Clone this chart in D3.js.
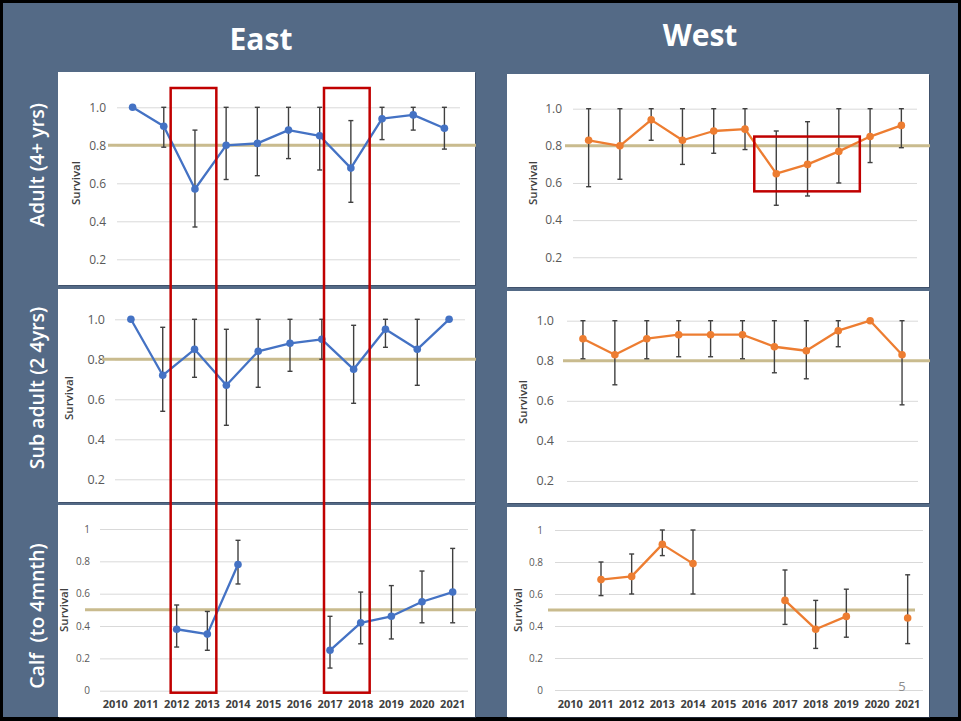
<!DOCTYPE html>
<html>
<head>
<meta charset="utf-8">
<script src="https://cdn.jsdelivr.net/npm/d3@7"></script>
<style>
  html, body { margin: 0; padding: 0; background: #000; }
  svg { display: block; }
</style>
</head>
<body>
<svg id="chart" width="961" height="721"></svg>
<script>
// ---- categories ----
const adultYears = ["2011","2012","2013","2014","2015","2016","2017","2018","2019","2020","2021"];
const calfYears  = ["2010","2011","2012","2013","2014","2015","2016","2017","2018","2019","2020","2021"];

// ---- East ----
const eastAdultSurv = [1.00, 0.90, 0.57, 0.80, 0.81, 0.88, 0.85, 0.68, 0.94, 0.96, 0.89];
const eastAdultLow  = [null, 0.79, 0.37, 0.62, 0.64, 0.73, 0.67, 0.50, 0.83, 0.88, 0.78];
const eastAdultHigh = [null, 1.00, 0.88, 1.00, 1.00, 1.00, 1.00, 0.93, 1.00, 1.00, 1.00];

const eastSubSurv = [1.00, 0.72, 0.85, 0.67, 0.84, 0.88, 0.90, 0.75, 0.95, 0.85, 1.00];
const eastSubLow  = [null, 0.54, 0.71, 0.47, 0.66, 0.74, 0.80, 0.58, 0.86, 0.67, null];
const eastSubHigh = [null, 0.96, 1.00, 0.95, 1.00, 1.00, 1.00, 0.97, 1.00, 1.00, null];

const eastCalfSurv = [null, null, 0.38, 0.35, 0.78, null, null, 0.25, 0.42, 0.46, 0.55, 0.61];
const eastCalfLow  = [null, null, 0.27, 0.25, 0.66, null, null, 0.14, 0.29, 0.32, 0.42, 0.42];
const eastCalfHigh = [null, null, 0.53, 0.49, 0.93, null, null, 0.46, 0.61, 0.65, 0.74, 0.88];

// ---- West ----
const westAdultSurv = [0.83, 0.80, 0.94, 0.83, 0.88, 0.89, 0.65, 0.70, 0.77, 0.85, 0.91];
const westAdultLow  = [0.58, 0.62, 0.83, 0.70, 0.76, 0.78, 0.48, 0.53, 0.60, 0.71, 0.79];
const westAdultHigh = [1.00, 1.00, 1.00, 1.00, 1.00, 1.00, 0.88, 0.93, 1.00, 1.00, 1.00];

const westSubSurv = [0.91, 0.83, 0.91, 0.93, 0.93, 0.93, 0.87, 0.85, 0.95, 1.00, 0.83];
const westSubLow  = [0.81, 0.68, 0.81, 0.82, 0.82, 0.81, 0.74, 0.71, 0.87, null, 0.58];
const westSubHigh = [1.00, 1.00, 1.00, 1.00, 1.00, 1.00, 1.00, 1.00, 1.00, null, 1.00];

const westCalfSurv = [null, 0.69, 0.71, 0.91, 0.79, null, null, 0.56, 0.38, 0.46, null, 0.45];
const westCalfLow  = [null, 0.59, 0.60, 0.84, 0.60, null, null, 0.41, 0.26, 0.33, null, 0.29];
const westCalfHigh = [null, 0.80, 0.85, 1.00, 1.00, null, null, 0.75, 0.56, 0.63, null, 0.72];

// ---- reference levels, tick labels, headings ----
const targetAdult = 0.8, targetSub = 0.8, targetCalf = 0.5;
const upperTicks = [0.2, 0.4, 0.6, 0.8, 1.0];
const calfTicks  = [0, 0.2, 0.4, 0.6, 0.8, 1];
const columnTitles = ["East", "West"];
const rowTitles = ["Adult (4+ yrs)", "Sub adult (2 4yrs)", "Calf  (to 4mnth)"];
const axisTitle = "Survival";
const slideNumber = "5";

// highlighted periods
const eastHighlights = [["2012", "2013"], ["2017", "2018"]];
const westHighlightYears = ["2017", "2019"];
const westHighlightRange = [0.555, 0.85];

const FONT = "'Open Sans', 'DejaVu Sans', sans-serif";
const BLUE = "#4472c4", ORANGE = "#ed7d31", BEIGE = "#c9bb8e", RED = "#c00000";

const svg = d3.select("#chart");
svg.append("rect").attr("width", 961).attr("height", 721).attr("fill", "#000");
svg.append("rect").attr("x", 3).attr("y", 3).attr("width", 955).attr("height", 714).attr("fill", "#546a86");

// column headings
svg.append("text").attr("x", 261).attr("y", 50).attr("text-anchor", "middle")
  .attr("font-family", FONT).attr("font-weight", 700).attr("font-size", 30)
  .attr("fill", "#fff").text(columnTitles[0]);
svg.append("text").attr("x", 700).attr("y", 46).attr("text-anchor", "middle")
  .attr("font-family", FONT).attr("font-weight", 700).attr("font-size", 30)
  .attr("fill", "#fff").text(columnTitles[1]);

// row headings
[165, 388, 616].forEach((cy, i) => {
  svg.append("text").attr("transform", `translate(37,${cy}) rotate(-90)`)
    .attr("text-anchor", "middle").attr("dy", "0.35em").attr("font-family", FONT)
    .attr("font-weight", 600).attr("font-size", 19.5).attr("fill", "#fff")
    .style("white-space", "pre").text(rowTitles[i]);
});

function drawPanel(p) {
  const g = svg.append("g");
  const clipId = "clip" + p.id;
  svg.append("clipPath").attr("id", clipId).append("rect")
    .attr("x", p.box[0]).attr("y", p.box[1]).attr("width", p.box[2] + 1).attr("height", p.box[3] + 1);
  g.attr("clip-path", `url(#${clipId})`);

  g.append("rect").attr("x", p.box[0] + 1).attr("y", p.box[1] + 1)
    .attr("width", p.box[2]).attr("height", p.box[3]).attr("fill", "#33415a").attr("opacity", 0.6);
  g.append("rect").attr("x", p.box[0]).attr("y", p.box[1])
    .attr("width", p.box[2]).attr("height", p.box[3]).attr("fill", "#fff");

  const x = d3.scaleBand().domain(p.years).range([p.gx0, p.gx1]);
  const y = d3.scaleLinear().domain([0, 1]).range([p.y0, p.y1]);

  // gridlines + tick labels
  const yAxis = d3.axisLeft(y).tickValues(p.ticks).tickSize(-(p.gx1 - p.gx0)).tickPadding(p.tickPad)
    .tickFormat(p.fmt);
  const ya = g.append("g").attr("transform", `translate(${p.gx0},0)`).call(yAxis);
  ya.select(".domain").remove();
  ya.selectAll(".tick line").attr("stroke", "#d9d9d9").attr("stroke-width", 1);
  ya.selectAll(".tick text").attr("fill", "#595959").attr("font-family", FONT)
    .attr("font-size", p.tickSize);

  // x axis labels (bottom row only)
  if (p.xLabels) {
    const xAxis = d3.axisBottom(x).tickSize(0).tickPadding(10);
    const xa = g.append("g").attr("transform", `translate(0,${p.y0})`).call(xAxis);
    xa.select(".domain").remove();
    xa.selectAll(".tick text").attr("fill", "#404040").attr("font-family", FONT)
      .attr("font-weight", 700).attr("font-size", 11);
  }

  // axis title
  g.append("text").attr("transform", `translate(${p.titleX},${p.titleY}) rotate(-90)`)
    .attr("text-anchor", "middle").attr("dy", "0.35em").attr("font-family", FONT)
    .attr("font-weight", 600).attr("font-size", 11.5).attr("fill", "#404040").text(axisTitle);

  // target level
  g.append("line").attr("x1", p.refX0).attr("x2", p.refX1)
    .attr("y1", y(p.target)).attr("y2", y(p.target))
    .attr("stroke", BEIGE).attr("stroke-width", 3);

  const rows = p.years.map((yr, i) => ({ yr, v: p.surv[i], lo: p.low[i], hi: p.high[i] }));
  const cx = d => x(d.yr) + x.bandwidth() / 2;

  // error bars
  const eb = g.append("g").attr("stroke", "#404040").attr("stroke-width", 1.4);
  rows.filter(d => d.lo != null && d.hi != null).forEach(d => {
    eb.append("line").attr("x1", cx(d)).attr("x2", cx(d)).attr("y1", y(d.lo)).attr("y2", y(d.hi));
    eb.append("line").attr("x1", cx(d) - 2.5).attr("x2", cx(d) + 2.5).attr("y1", y(d.lo)).attr("y2", y(d.lo));
    eb.append("line").attr("x1", cx(d) - 2.5).attr("x2", cx(d) + 2.5).attr("y1", y(d.hi)).attr("y2", y(d.hi));
  });

  // series line (broken where a year has no estimate)
  const line = d3.line().defined(d => d.v != null).x(cx).y(d => y(d.v));
  g.append("path").datum(rows).attr("d", line).attr("fill", "none")
    .attr("stroke", p.color).attr("stroke-width", 2.3).attr("stroke-linejoin", "round");
  g.selectAll("circle.pt").data(rows.filter(d => d.v != null)).join("circle")
    .attr("cx", cx).attr("cy", d => y(d.v)).attr("r", 3.8).attr("fill", p.color);

  return { x, y };
}

const panels = {};
panels.eastAdult = drawPanel({ id: "ea", box: [58, 72, 417, 213], gx0: 117, gx1: 460, y0: 297.3, y1: 107.3,
  years: adultYears, surv: eastAdultSurv, low: eastAdultLow, high: eastAdultHigh, color: BLUE,
  ticks: upperTicks, fmt: d3.format(".1f"), tickSize: 12, tickPad: 11, target: targetAdult,
  refX0: 108, refX1: 476, titleX: 76, titleY: 183 });
panels.eastSub = drawPanel({ id: "es", box: [58, 289, 417, 213], gx0: 115, gx1: 465, y0: 519.3, y1: 319.3,
  years: adultYears, surv: eastSubSurv, low: eastSubLow, high: eastSubHigh, color: BLUE,
  ticks: upperTicks, fmt: d3.format(".1f"), tickSize: 12.5, tickPad: 10, target: targetSub,
  refX0: 102, refX1: 476, titleX: 69, titleY: 398 });
panels.eastCalf = drawPanel({ id: "ec", box: [58, 505, 417, 212], gx0: 100, gx1: 468, y0: 690.7, y1: 529,
  years: calfYears, surv: eastCalfSurv, low: eastCalfLow, high: eastCalfHigh, color: BLUE,
  ticks: calfTicks, fmt: d3.format("~g"), tickSize: 10, tickPad: 10, target: targetCalf,
  refX0: 85, refX1: 476, titleX: 64, titleY: 610, xLabels: true });
panels.westAdult = drawPanel({ id: "wa", box: [507, 74, 422, 213], gx0: 573, gx1: 917, y0: 294.4, y1: 108.7,
  years: adultYears, surv: westAdultSurv, low: westAdultLow, high: westAdultHigh, color: ORANGE,
  ticks: upperTicks, fmt: d3.format(".1f"), tickSize: 12, tickPad: 11, target: targetAdult,
  refX0: 565, refX1: 930, titleX: 533, titleY: 183 });
panels.westSub = drawPanel({ id: "ws", box: [507, 291, 422, 212], gx0: 567, gx1: 918, y0: 521, y1: 320.7,
  years: adultYears, surv: westSubSurv, low: westSubLow, high: westSubHigh, color: ORANGE,
  ticks: upperTicks, fmt: d3.format(".1f"), tickSize: 12.5, tickPad: 13, target: targetSub,
  refX0: 563, refX1: 930, titleX: 523, titleY: 402 });
panels.westCalf = drawPanel({ id: "wc", box: [507, 507, 422, 210], gx0: 555, gx1: 923, y0: 690, y1: 530,
  years: calfYears, surv: westCalfSurv, low: westCalfLow, high: westCalfHigh, color: ORANGE,
  ticks: calfTicks, fmt: d3.format("~g"), tickSize: 10, tickPad: 12, target: targetCalf,
  refX0: 548, refX1: 915, titleX: 518, titleY: 610, xLabels: true });

// slide number
svg.append("text").attr("x", 902).attr("y", 691).attr("text-anchor", "middle")
  .attr("font-family", FONT).attr("font-size", 13).attr("fill", "#8c8c8c").text(slideNumber);

// highlighted periods, East column (span all three rows)
const ec = panels.eastCalf;
eastHighlights.forEach(([a, b]) => {
  const left = ec.x(a) + ec.x.bandwidth() / 2 - 6;
  const right = ec.x(b) + ec.x.bandwidth() / 2 + 9;
  svg.append("rect").attr("x", left).attr("y", 88).attr("width", right - left)
    .attr("height", ec.y(0) + 2 - 88).attr("fill", "none").attr("stroke", RED).attr("stroke-width", 2.5);
});

// highlighted period, West adult
const wa = panels.westAdult;
{
  const left = wa.x(westHighlightYears[0]) + wa.x.bandwidth() / 2 - 22;
  const right = wa.x(westHighlightYears[1]) + wa.x.bandwidth() / 2 + 21;
  svg.append("rect").attr("x", left).attr("y", wa.y(westHighlightRange[1]))
    .attr("width", right - left).attr("height", wa.y(westHighlightRange[0]) - wa.y(westHighlightRange[1]))
    .attr("fill", "none").attr("stroke", RED).attr("stroke-width", 2.5);
}
</script>
</body>
</html>
